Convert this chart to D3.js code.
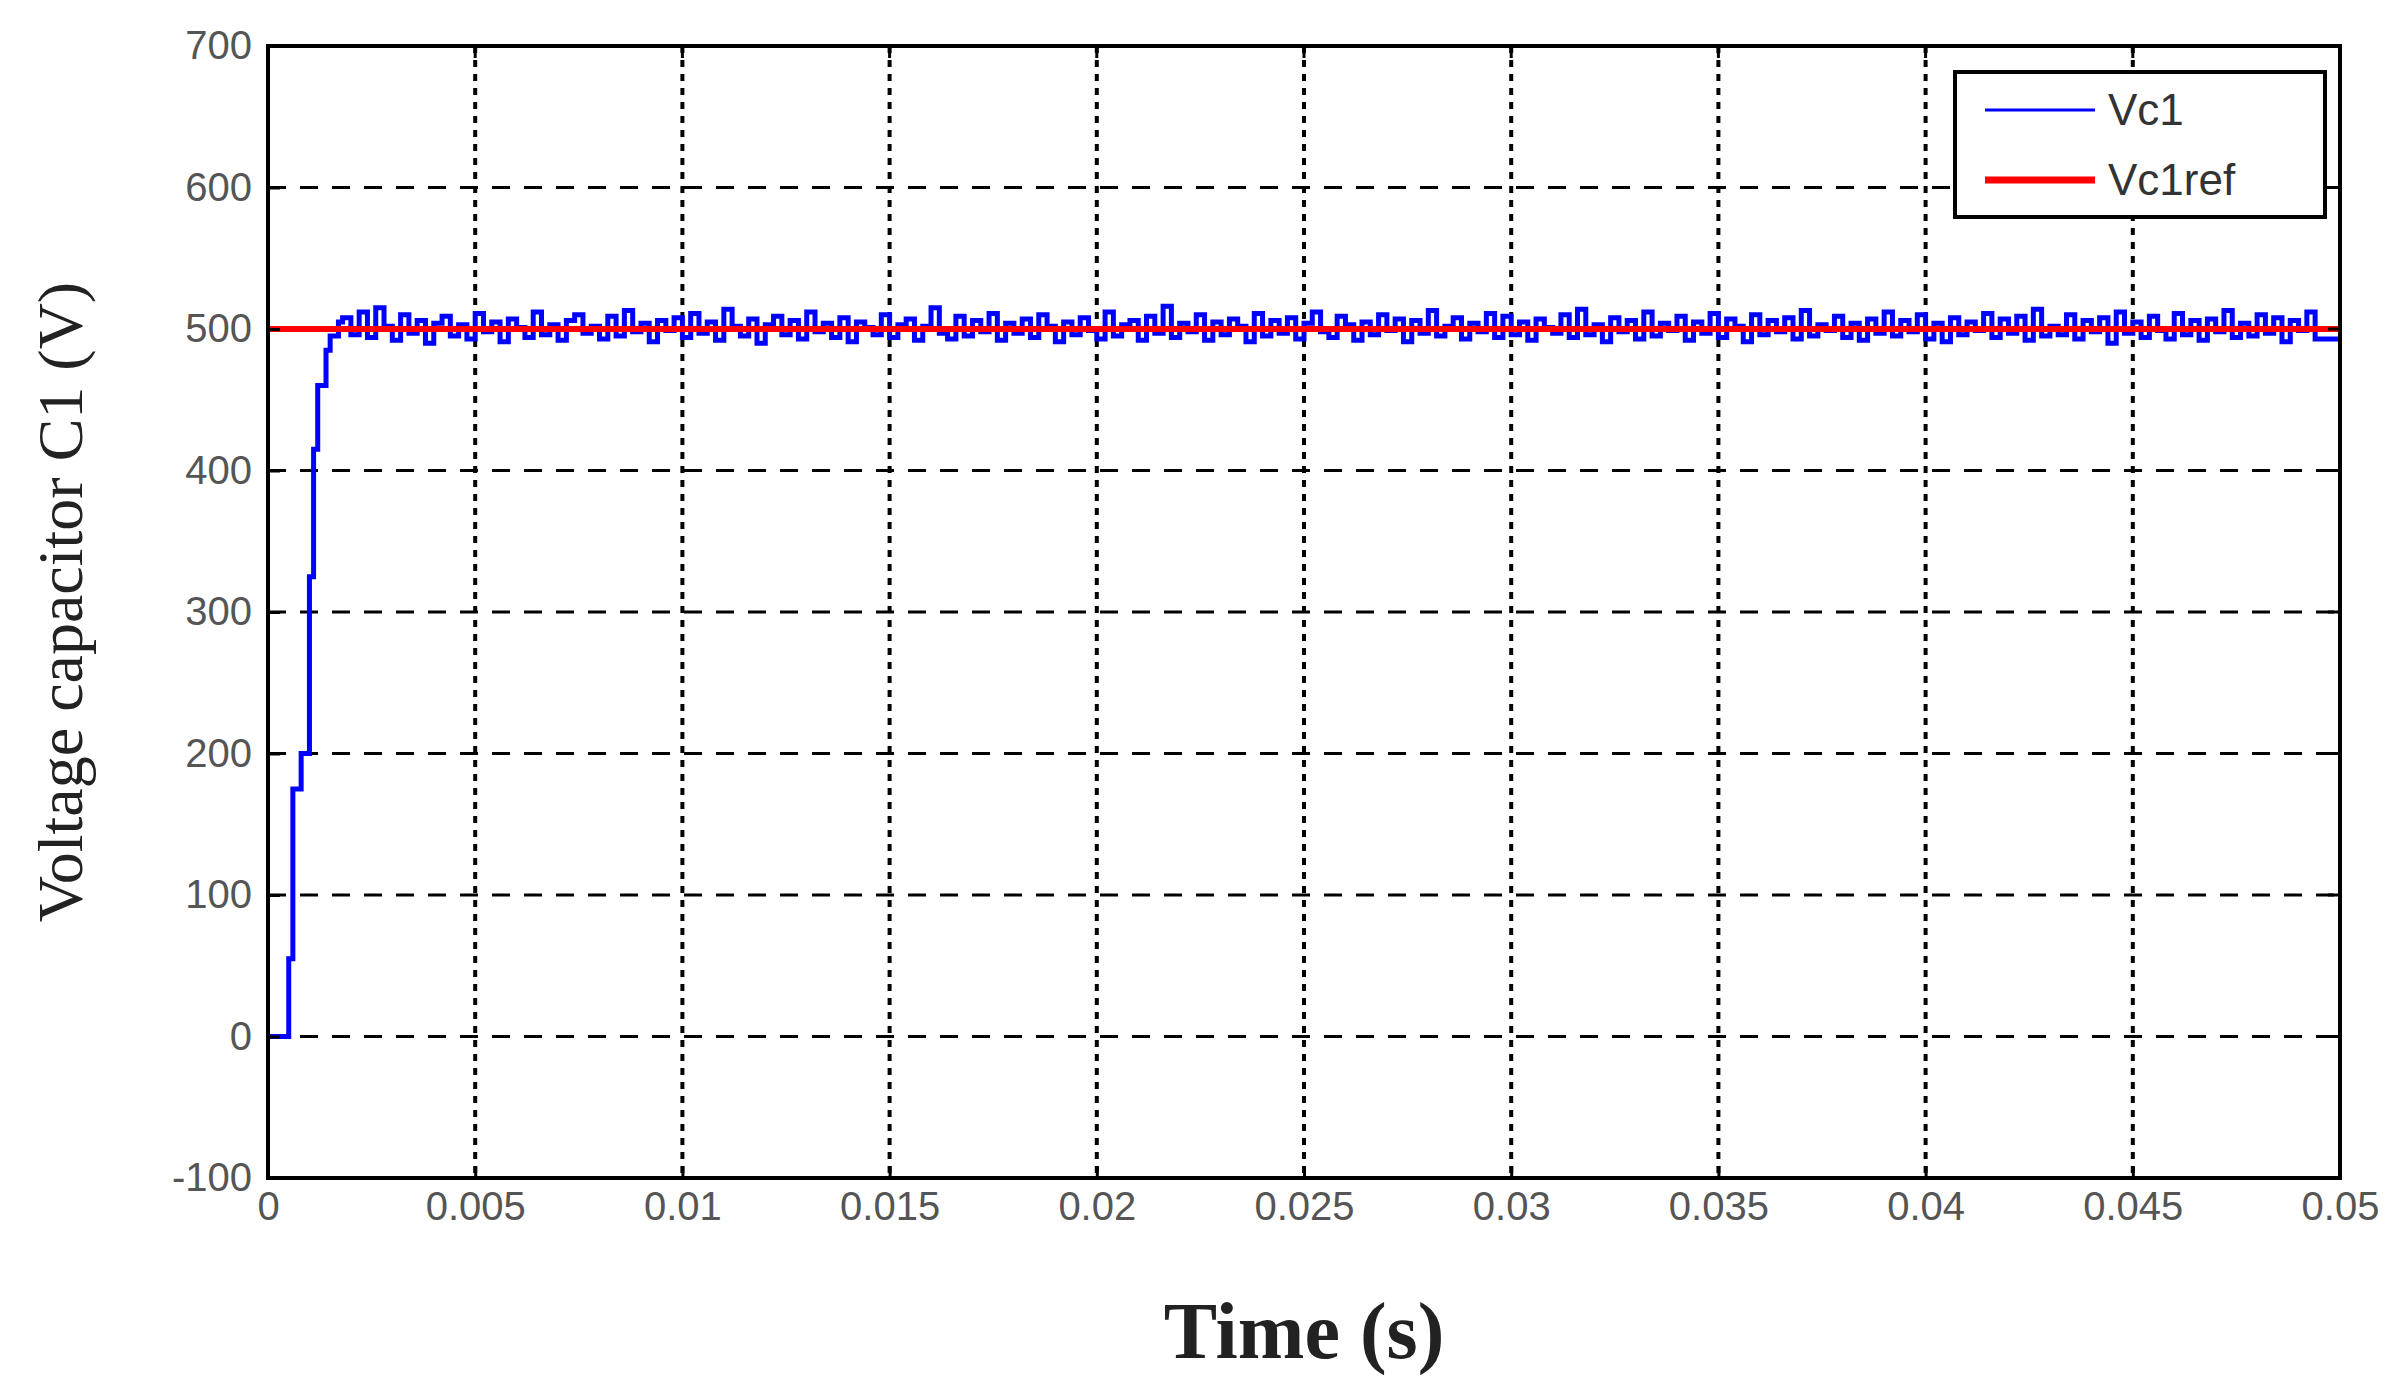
<!DOCTYPE html>
<html><head><meta charset="utf-8">
<script src="https://cdn.jsdelivr.net/npm/d3@7"></script>
<style>body{margin:0;background:#fff}</style></head>
<body><svg id="c" width="2405" height="1398"></svg>
<script>
const xTicks=[0,0.005,0.01,0.015,0.02,0.025,0.03,0.035,0.04,0.045,0.05];
const xTickLabels=["0","0.005","0.01","0.015","0.02","0.025","0.03","0.035","0.04","0.045","0.05"];
const yTicks=[-100,0,100,200,300,400,500,600,700];
const riseT=[0,0.0005,0.0006,0.0008,0.0010,0.0011,0.0012,0.0014,0.0015,0.0017];
const riseV=[0,55,175,200,325,415,460,485,495,505];
// steady-state deviations from 500 V, one per 0.0002 s starting at 0.0018 s
const noise=[8,-4,12,-6,15,2,-8,10,-3,6,-10,4,9,-5,3,-7,11,-2,5,-9,7,1,-6,12,-4,3,-8,6,10,-3,2,-7,9,-5,13,-2,4,-9,6,-1,8,-6,11,-3,5,-8,14,2,-5,7,-10,3,9,-4,6,-7,12,-2,4,-6,8,-9,5,1,-4,10,-6,3,7,-8,2,15,-3,-7,9,-5,6,-2,11,-8,4,-3,7,-6,10,2,-9,5,-4,8,-1,-7,12,-5,3,6,-8,9,-3,16,-6,4,-2,10,-8,5,-4,7,2,-9,11,-5,6,-3,8,-7,4,12,-2,-6,9,3,-8,5,-4,10,-1,7,-9,6,-3,13,-5,2,8,-7,4,-2,11,-6,9,-4,5,-8,7,1,-3,10,-6,14,-4,3,-9,8,-2,6,-7,12,-5,4,-1,9,-8,5,-3,11,-6,7,2,-9,10,-4,6,-2,8,-7,13,-5,3,-1,9,-6,4,-8,7,-3,12,-5,6,-2,10,-7,4,-9,8,-4,5,-1,11,-6,7,-3,9,-8,14,-5,2,-4,10,-7,6,-2,8,-10,12,-3,5,-6,9,-1,-7,11,-4,6,-8,7,-2,13,-6,4,-5,10,-3,8,-9,6,-1,12,-7];
const refV=500;

const svg=d3.select("#c");
const L=268,R=2340,T=46,B=1178;
const x=d3.scaleLinear().domain([0,0.05]).range([L,R]);
const y=d3.scaleLinear().domain([-100,700]).range([B,T]);

svg.append("g").selectAll("line").data(yTicks.filter(v=>v>-100&&v<700)).join("line")
 .attr("x1",L).attr("x2",R).attr("y1",d=>y(d)).attr("y2",d=>y(d))
 .attr("stroke","#000").attr("stroke-width",3).attr("stroke-dasharray","18,14");
svg.append("g").selectAll("line").data(xTicks.filter(v=>v>0&&v<0.05)).join("line")
 .attr("y1",T).attr("y2",B).attr("x1",d=>x(d)).attr("x2",d=>x(d))
 .attr("stroke","#000").attr("stroke-width",4).attr("stroke-dasharray","7,7");

const pts=riseT.map((t,i)=>[t,riseV[i]]);
noise.forEach((n,i)=>pts.push([0.0018+i*0.0002,refV+n]));
pts.push([0.05,refV+noise[noise.length-1]]);
const line=d3.line().x(d=>x(d[0])).y(d=>y(d[1])).curve(d3.curveStepAfter);
svg.append("path").datum(pts).attr("d",line).attr("fill","none").attr("stroke","#0000ff").attr("stroke-width",5);
svg.append("line").attr("x1",x(0)).attr("x2",x(0.05)).attr("y1",y(refV)).attr("y2",y(refV))
 .attr("stroke","#ff0000").attr("stroke-width",6);

svg.append("rect").attr("x",L).attr("y",T).attr("width",R-L).attr("height",B-T)
 .attr("fill","none").attr("stroke","#000").attr("stroke-width",4);
const ya=svg.append("g").attr("transform",`translate(${L},0)`).call(d3.axisLeft(y).tickValues(yTicks).tickSize(-12).tickPadding(16).tickFormat(d=>d<0?"-"+Math.abs(d):d));
const xa=svg.append("g").attr("transform",`translate(0,${B})`).call(d3.axisBottom(x).tickValues(xTicks).tickSize(-12).tickPadding(14).tickFormat((d,i)=>xTickLabels[i]));
[ya,xa].forEach(a=>{a.select(".domain").remove();a.selectAll("line").attr("stroke","#000").attr("stroke-width",3);
 a.selectAll("text").attr("font-family","Liberation Sans, Arial").attr("font-size",40).attr("fill","#555");});
svg.append("g").selectAll("line").data(yTicks).join("line").attr("x1",R).attr("x2",R-12).attr("y1",d=>y(d)).attr("y2",d=>y(d)).attr("stroke","#000").attr("stroke-width",3);
svg.append("g").selectAll("line").data(xTicks).join("line").attr("y1",T).attr("y2",T+12).attr("x1",d=>x(d)).attr("x2",d=>x(d)).attr("stroke","#000").attr("stroke-width",3);

svg.append("text").attr("x",(L+R)/2).attr("y",1358).attr("text-anchor","middle")
 .attr("font-family","Liberation Serif, Times New Roman").attr("font-size",80).attr("font-weight","bold").attr("fill","#222").text("Time (s)");
svg.append("text").attr("transform",`translate(82,${(T+B)/2-10}) rotate(-90)`).attr("text-anchor","middle")
 .attr("font-family","Liberation Serif, Times New Roman").attr("font-size",64).attr("fill","#222").text("Voltage capacitor C1 (V)");

const lg=svg.append("g");
lg.append("rect").attr("x",1955).attr("y",72).attr("width",370).attr("height",145).attr("fill","#fff").attr("stroke","#000").attr("stroke-width",4);
[["Vc1","#0000ff",3,110],["Vc1ref","#ff0000",7,180]].forEach(([t,c,w,yy])=>{
 lg.append("line").attr("x1",1985).attr("x2",2095).attr("y1",yy).attr("y2",yy).attr("stroke",c).attr("stroke-width",w);
 lg.append("text").attr("x",2108).attr("y",yy+15).attr("font-family","Liberation Sans, Arial").attr("font-size",44).attr("fill","#333").text(t);
});
</script></body></html>
